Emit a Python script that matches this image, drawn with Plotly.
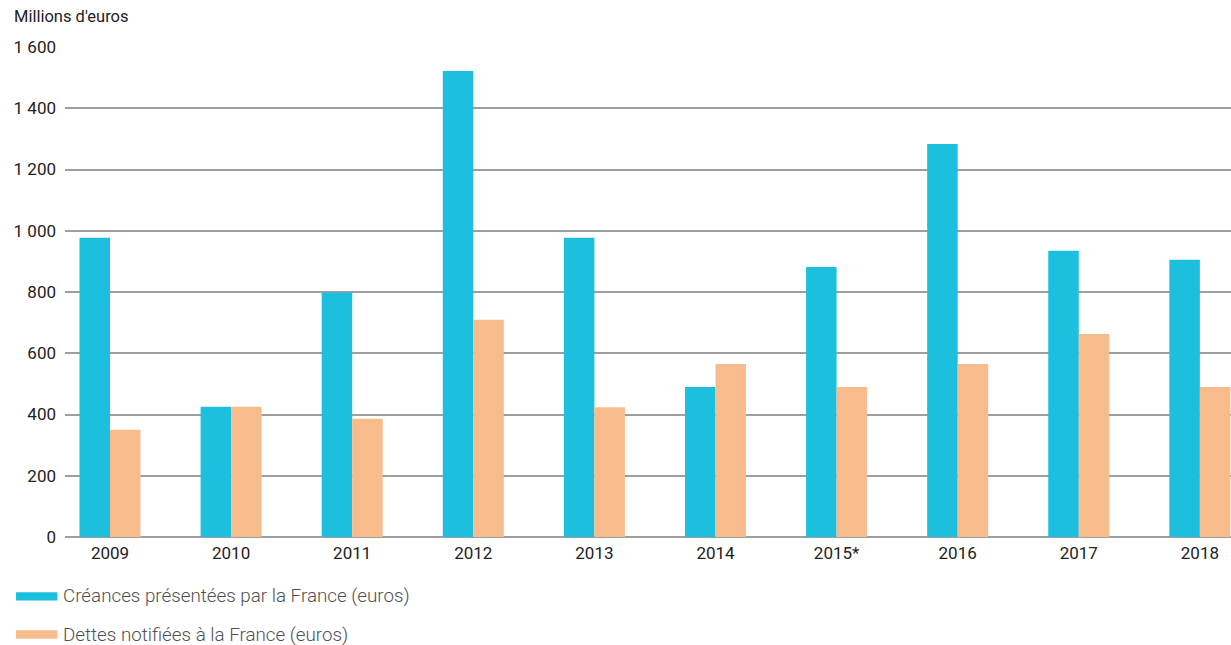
import plotly.graph_objects as go

# ---------------------------------------------------------------------------
# Data (millions d'euros)
# ---------------------------------------------------------------------------
years = ["2009", "2010", "2011", "2012", "2013", "2014", "2015*", "2016", "2017", "2018"]
creances = [977, 425, 798, 1522, 977, 490, 882, 1283, 935, 905]
dettes = [350, 425, 386, 709, 424, 565, 490, 565, 663, 490]

y_tickvals = [0, 200, 400, 600, 800, 1000, 1200, 1400, 1600]
y_ticktext = ["0", "200", "400", "600", "800", "1 000", "1 200", "1 400", "1 600"]

name_creances = "Créances présentées par la France (euros)"
name_dettes = "Dettes notifiées à la France (euros)"

C_BLUE = "#1DBFDF"
C_ORANGE = "#F8BC8C"
C_GRID = "#9E9EA2"

FONT = "Roboto, Arial, sans-serif"

fig = go.Figure()

fig.add_trace(
    go.Bar(
        x=years,
        y=creances,
        name=name_creances,
        marker=dict(color=C_BLUE, line=dict(width=0)),
        showlegend=False,
    )
)
fig.add_trace(
    go.Bar(
        x=years,
        y=dettes,
        name=name_dettes,
        marker=dict(color=C_ORANGE, line=dict(width=0)),
        showlegend=False,
    )
)

# Manual legend: wide flat swatches + light text
legend_items = [(name_creances, C_BLUE, -0.121), (name_dettes, C_ORANGE, -0.199)]
for label, color, yc in legend_items:
    fig.add_shape(
        type="rect",
        xref="paper",
        yref="paper",
        x0=-0.042,
        x1=-0.0065,
        y0=yc - 0.0085,
        y1=yc + 0.0085,
        fillcolor=color,
        line=dict(width=0),
        layer="above",
    )
    fig.add_annotation(
        text=label,
        xref="paper",
        yref="paper",
        x=-0.0035,
        y=yc,
        xanchor="left",
        yanchor="middle",
        showarrow=False,
        font=dict(family=FONT, size=18.8, color="#505050", weight=300),
    )

fig.add_annotation(
    text="Millions d'euros",
    xref="paper",
    yref="paper",
    x=-0.0455,
    y=1.063,
    xanchor="left",
    yanchor="middle",
    showarrow=False,
    font=dict(family=FONT, size=16.5, color="#222222"),
)

fig.update_layout(
    width=1231,
    height=645,
    margin=dict(l=65, r=0, t=47, b=108),
    paper_bgcolor="white",
    plot_bgcolor="white",
    barmode="group",
    bargap=0.496,
    bargroupgap=0,
    font=dict(family=FONT, size=17, color="#222222"),
    xaxis=dict(
        type="category",
        range=[-0.3716, 9.257],
        showgrid=False,
        showline=False,
        zeroline=False,
        ticks="",
        ticklabelstandoff=4,
        tickfont=dict(family=FONT, size=17, color="#222222"),
    ),
    yaxis=dict(
        range=[0, 1600],
        tickvals=y_tickvals,
        ticktext=y_ticktext,
        showgrid=True,
        gridcolor=C_GRID,
        gridwidth=1.6,
        zeroline=True,
        zerolinecolor=C_GRID,
        zerolinewidth=1.6,
        showline=False,
        ticks="",
        ticklabelstandoff=8,
        tickfont=dict(family=FONT, size=17, color="#222222"),
    ),
)

fig.write_html(
    "out.html",
    config={"displayModeBar": False},
    post_script="document.body.style.margin='0';",
)
